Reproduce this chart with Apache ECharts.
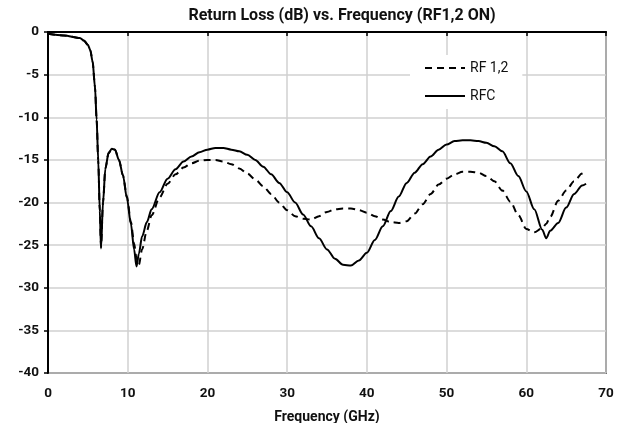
<!DOCTYPE html>
<html><head><meta charset="utf-8">
<script src="https://cdn.jsdelivr.net/npm/echarts@6/dist/echarts.min.js"></script>
<style>html,body{margin:0;padding:0;background:#fff}#c{width:632px;height:423px}</style>
</head><body><div id="c"></div>
<script>
const title = 'Return Loss (dB) vs. Frequency (RF1,2 ON)';
const xName = 'Frequency (GHz)';
const seriesNames = ['RF 1,2', 'RFC'];
const freq = [0,2,4,4.5,5,5.3,5.6,5.9,6.1,6.3,6.5,6.65,6.9,7.2,7.6,8.0,8.4,8.9,9.4,9.9,10.4,10.8,11.1,11.4,11.8,12.4,13,14,15,16,17,18,19,20,21,22,23,24,25,26,27,28,29,30,31,32,33,34,35,36,37,38,39,40,41,42,43,44,45,46,47,48,49,50,51,52,53,54,55,56,57,58,59,60,61,62,62.5,63,64,65,66,67,67.5];
const rfc = [-0.2,-0.4,-0.7,-1.0,-1.5,-2.1,-3.5,-6.5,-10.3,-15,-21,-25.4,-20,-16,-14.2,-13.7,-13.8,-15.0,-16.8,-19.5,-22.5,-25.5,-27.5,-26,-24,-22.3,-20.8,-18.8,-17.2,-16.1,-15.2,-14.6,-14.1,-13.8,-13.6,-13.6,-13.8,-14.0,-14.4,-15.0,-15.8,-16.7,-17.7,-18.8,-20.0,-21.4,-22.8,-24.2,-25.5,-26.6,-27.3,-27.4,-26.8,-25.9,-24.4,-22.8,-21.0,-19.3,-17.7,-16.5,-15.5,-14.6,-13.8,-13.2,-12.8,-12.7,-12.7,-12.8,-13.0,-13.4,-14.0,-15.4,-16.9,-18.7,-20.8,-23.2,-24.2,-23.3,-22.4,-20.6,-19.0,-18.0,-17.8];
const rf12 = [-0.2,-0.4,-0.7,-1.0,-1.5,-2.1,-3.5,-6.5,-10.3,-15,-21,-25.2,-20,-16,-14.2,-13.7,-13.8,-15.0,-16.8,-19.3,-22.3,-24.8,-26.5,-27.3,-25.5,-23.3,-21.5,-19.4,-17.8,-16.7,-15.9,-15.4,-15.1,-15.0,-15.0,-15.2,-15.5,-16.0,-16.6,-17.3,-18.1,-19.0,-20.0,-20.9,-21.6,-21.9,-22.0,-21.6,-21.1,-20.8,-20.7,-20.7,-20.9,-21.2,-21.6,-22.0,-22.3,-22.4,-22.2,-21.3,-20.2,-19.0,-17.9,-17.2,-16.7,-16.4,-16.4,-16.5,-16.9,-17.5,-18.6,-19.9,-21.5,-23.1,-23.5,-23.0,-22.5,-21.7,-19.8,-18.6,-17.5,-16.6,-16.2];

const pair = (ys) => freq.map((f, i) => [f, ys[i]]);
const font = 'Roboto';
const chart = echarts.init(document.getElementById('c'), null, {renderer: 'canvas'});
chart.setOption({
  animation: false,
  backgroundColor: '#fff',
  title: {text: title, left: 337, textAlign: 'center', top: 3,
    textStyle: {fontFamily: font, fontWeight: 'bold', fontSize: 16, color: '#111'}},
  grid: {left: 48, right: 26, top: 32, bottom: 50, containLabel: false, outerBoundsMode: 'none',
    show: true, borderColor: '#000', borderWidth: 1.5, backgroundColor: 'transparent'},
  legend: {
    orient: 'vertical', left: 410, top: 55, itemWidth: 40, itemHeight: 10, itemGap: 14,
    backgroundColor: '#fff', padding: [6, 14, 6, 14],
    itemStyle: {opacity: 0},
    textStyle: {fontFamily: font, fontSize: 14, color: '#111'},
    data: seriesNames
  },
  xAxis: {
    type: 'value', min: 0, max: 70, interval: 10,
    name: xName, nameLocation: 'middle', nameGap: 37,
    nameTextStyle: {fontFamily: font, fontWeight: 'bold', fontSize: 14, color: '#111'},
    axisLine: {show: true, lineStyle: {color: '#000', width: 2}},
    axisTick: {show: true, length: 4, lineStyle: {color: '#000', width: 1.5}},
    axisLabel: {fontFamily: font, fontWeight: 'bold', fontSize: 13.5, color: '#111', margin: 14},
    splitLine: {show: true, lineStyle: {color: '#d0d0d0', width: 1.5}}
  },
  yAxis: {
    type: 'value', min: -40, max: 0, interval: 5,
    axisLine: {show: true, lineStyle: {color: '#000', width: 2}},
    axisTick: {show: true, length: 4, lineStyle: {color: '#000', width: 1.5}},
    axisLabel: {fontFamily: font, fontWeight: 'bold', fontSize: 13.5, color: '#111', margin: 9},
    splitLine: {show: true, lineStyle: {color: '#d0d0d0', width: 1.5}}
  },
  series: [
    {name: seriesNames[0], type: 'line', data: pair(rf12), showSymbol: false, symbol: 'none',
      smooth: 0.3, smoothMonotone: 'x', z: 3,
      lineStyle: {color: '#000', width: 2, type: [7, 5]}, itemStyle: {color: '#000'}},
    {name: seriesNames[1], type: 'line', data: pair(rfc), showSymbol: false, symbol: 'none',
      smooth: 0.3, smoothMonotone: 'x', z: 4,
      lineStyle: {color: '#000', width: 2}, itemStyle: {color: '#000'}}
  ]
});
</script></body></html>
